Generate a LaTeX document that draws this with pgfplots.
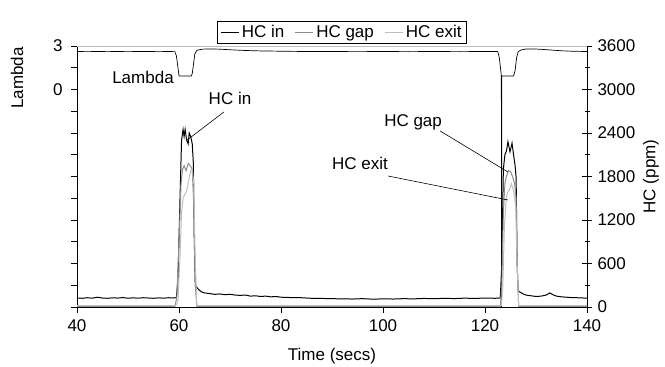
\documentclass[border=0pt]{standalone}
\usepackage{fontspec}
\setmainfont{Liberation Sans}
\usepackage{pgfplots}
\pgfplotsset{compat=1.18}
\definecolor{gapgray}{gray}{0.55}
\definecolor{exitgray}{gray}{0.75}
\begin{document}
\begin{tikzpicture}[font=\fontsize{17bp}{20bp}\selectfont]
\pgfplotsset{
  every axis/.append style={
    scale only axis, width=510bp, height=261bp,
    xmin=40, xmax=140,
    /pgf/number format/assume math mode=true,
    /pgf/number format/1000 sep={},
    axis line style={line width=0.8pt, black},
    every tick/.style={black, line width=0.6pt},
    clip mode=individual,
  }
}
% ---------- Lambda axis (left) ----------
\begin{axis}[
  axis y line*=left, axis x line*=bottom,
  ymin=-15, ymax=3,
  ytick={0,3},
  extra y ticks={-15,-13.5,-12,-10.5,-9,-7.5,-6,-4.5,-3,-1.5,1.5},
  extra y tick labels={},
  tick align=outside, major tick length=6bp,
  xtick={40,60,80,100,120,140},
  xticklabel style={yshift=-3bp},
  yticklabel style={xshift=-5bp},
  xlabel={Time (secs)},
  xlabel style={at={(rel axis cs:0.5,0)}, anchor=center, yshift=-49bp},
  ylabel={Lambda},
  ylabel style={at={([xshift=-60bp]rel axis cs:0,0.877)}, anchor=center},
]
\addplot[black, line width=0.7pt] coordinates {
(40,2.62) (42,2.61) (44,2.62) (46,2.63) (48,2.62) (50,2.61) (52,2.62) (54,2.62) (56,2.61) (58,2.62) (59.2,2.61)
(59.5,2.3) (59.8,1.5) (60.0,0.95) (60.2,0.93) (62.4,0.93) (62.6,1.1) (62.9,1.9) (63.1,2.45) (63.5,2.7)
(64.5,2.78) (66,2.8) (68,2.78) (70,2.74) (73,2.69) (76,2.66) (80,2.64) (85,2.62) (90,2.62) (95,2.61)
(100,2.62) (105,2.61) (110,2.62) (115,2.61) (120,2.62) (122.5,2.62)
(122.8,2.2) (123.0,1.6) (123.2,0.95) (123.25,-16) (123.3,0.93) (125.6,0.93) (125.9,1.3) (126.2,2.2) (126.5,2.6)
(127,2.72) (128,2.79) (129.5,2.8) (131,2.77) (133,2.72) (135,2.67) (137,2.64) (140,2.62)
};
\end{axis}
% ---------- HC axis (right) ----------
\begin{axis}[
  axis y line*=right, axis x line=none,
  ymin=0, ymax=3600,
  ytick={0,600,...,3600},
  minor y tick num=1,
  tick align=center, major tick length=10bp, minor tick length=5bp,
  yticklabel style={xshift=2bp},
  ylabel={HC (ppm)},
  ylabel style={at={([xshift=64bp]rel axis cs:1,0.5)}, anchor=center},
  legend style={at={(rel axis cs:0.52,1)}, anchor=south, yshift=2bp,
    legend columns=3, draw=black, line width=0.6pt,
    inner sep=2.5bp, row sep=0pt,
    nodes={inner xsep=2.5bp, inner ysep=2bp},
    /tikz/every even column/.append style={column sep=8bp},
    font=\fontsize{17bp}{20bp}\selectfont},
  legend image code/.code={\draw[#1, line width=1pt] (0bp,0bp) -- (18bp,0bp);},
]
\addplot[black, line width=1pt] coordinates {
(40,125) (41,120) (42,128) (43,122) (44,135) (45,124) (46,120) (47,127) (48,123) (49,130) (50,121)
(51,126) (52,122) (53,128) (54,124) (55,120) (56,126) (57,122) (58,128) (59,124) (59.5,130)
(59.8,400) (60.2,1500) (60.5,2300) (60.8,2450) (61.0,2350) (61.2,2450) (61.5,2300) (61.8,2250)
(62.0,2400) (62.3,2350) (62.6,2250) (62.8,2000) (63.0,900) (63.2,300) (63.5,270)
(64,230) (64.5,205) (65,195) (66,185) (67,175) (68,180) (69,170) (70,175) (71,165) (72,160) (73,165)
(74,150) (75,155) (76,145) (77,150) (78,140) (79,145) (80,135) (82,130) (84,128) (86,120) (88,118)
(90,115) (92,112) (94,110) (96,115) (98,108) (100,112) (102,110) (104,115) (106,112) (108,118)
(110,114) (112,120) (114,116) (116,122) (118,118) (120,124) (122,120) (123,125)
(123.3,600) (123.6,1900) (123.9,2100) (124.2,2150) (124.5,2280) (124.9,2140) (125.3,2260)
(125.6,2100) (125.9,1950) (126.1,1790) (126.3,600) (126.5,220) (127,200) (127.5,180) (128,165)
(129,155) (130,145) (131,150) (132,165) (132.7,195) (133.3,170) (134,150) (135,140) (136,135)
(137,130) (138,128) (139,125) (140,122)
};
\addlegendentry{HC in}
\addplot[gapgray, line width=1pt] coordinates {
(40,5) (59.2,5) (59.6,150) (60.0,900) (60.4,1700) (60.7,1900) (61.0,1950) (61.4,1880) (61.8,1980)
(62.2,1950) (62.6,1900) (62.9,1400) (63.2,300) (63.5,5) (123.0,5) (123.3,300) (123.6,1300)
(123.9,1700) (124.2,1800) (124.6,1880) (125.0,1870) (125.4,1800) (125.8,1700) (126.1,1500)
(126.3,600) (126.6,5) (140,5)
};
\addlegendentry{HC gap}
\addplot[exitgray, line width=1pt] coordinates {
(40,18) (59.4,18) (59.8,100) (60.2,700) (60.5,1300) (60.8,1500) (61.1,1550) (61.5,1600) (61.9,1750)
(62.3,1880) (62.6,1900) (62.9,1700) (63.2,600) (63.5,18) (123.2,18) (123.5,300) (123.8,1100)
(124.1,1450) (124.4,1580) (124.8,1620) (125.2,1700) (125.6,1600) (126.0,1400) (126.3,600)
(126.6,18) (140,18)
};
\addlegendentry{HC exit}
\draw[exitgray, line width=1pt] (rel axis cs:0,1) -- (rel axis cs:1,1);
\node[anchor=east, inner sep=1bp] at (axis cs:59.2,3160) {Lambda};
\node at (axis cs:70,2883) {HC in};
\draw[black, line width=0.6pt] (axis cs:68.8,2690) -- (axis cs:61.6,2303);
\node at (axis cs:105.9,2552) {HC gap};
\draw[black, line width=0.6pt] (axis cs:111.2,2428) -- (axis cs:124.5,1862);
\node at (axis cs:95.5,1986) {HC exit};
\draw[black, line width=0.6pt] (axis cs:101,1807) -- (axis cs:124.5,1476);
\end{axis}
\pgfresetboundingbox
\path[use as bounding box] (-77bp,-60bp) rectangle (588bp,307bp);
\end{tikzpicture}
\end{document}
